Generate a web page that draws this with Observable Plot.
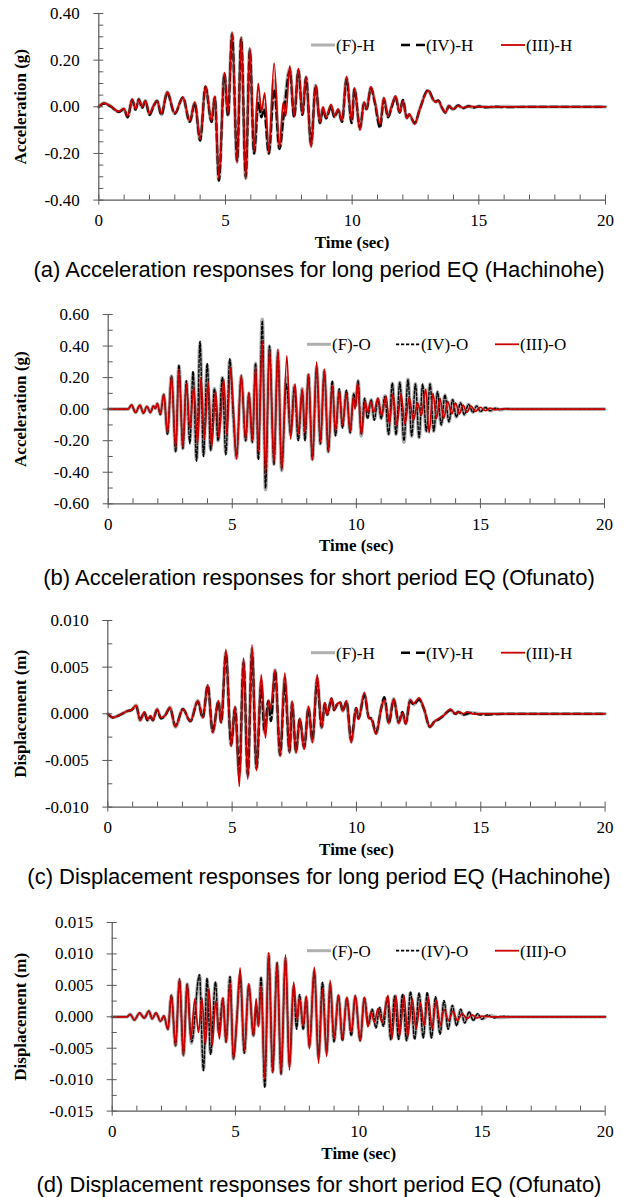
<!DOCTYPE html>
<html><head><meta charset="utf-8">
<script src="https://cdn.jsdelivr.net/npm/d3@7"></script>
<script src="https://cdn.jsdelivr.net/npm/@observablehq/plot@0.6"></script>
<style>
html,body{margin:0;padding:0;background:#fff;overflow:hidden}
#root{position:relative;width:626px;height:1197px}
.panel{position:absolute;left:0;top:0}
.cap{position:absolute;left:12px;width:614px;text-align:center;font-family:"Liberation Sans",Arial,sans-serif;font-size:22px;line-height:24px;color:#000;white-space:nowrap}
#leg{position:absolute;left:0;top:0;pointer-events:none}
svg, svg text{font-family:"Liberation Serif","Times New Roman",serif !important}
</style></head><body><div id="root"></div>
<script>
// ---------- tick values ----------
const xMajor = [0,5,10,15,20];
const xMinor = [1,2,3,4,6,7,8,9,11,12,13,14,16,17,18,19];
const yMajorA = [-0.4,-0.2,0,0.2,0.4];
const yMinorA = [-0.35,-0.3,-0.25,-0.15,-0.1,-0.05,0.05,0.1,0.15,0.25,0.3,0.35];
const yMajorB = [-0.6,-0.4,-0.2,0,0.2,0.4,0.6];
const yMinorB = [-0.5,-0.3,-0.1,0.1,0.3,0.5];
const yMajorC = [-0.01,-0.005,0,0.005,0.01];
const yMinorC = [-0.0075,-0.0025,0.0025,0.0075];
const yMajorD = [-0.015,-0.01,-0.005,0,0.005,0.01,0.015];
const yMinorD = [-0.0125,-0.0075,-0.0025,0.0025,0.0075,0.0125];

// ---------- series names / labels ----------
const namesH = ["(F)-H","(IV)-H","(III)-H"];
const namesO = ["(F)-O","(IV)-O","(III)-O"];
const captions = [
  "(a) Acceleration responses for long period EQ (Hachinohe)",
  "(b) Acceleration responses for short period EQ (Ofunato)",
  "(c) Displacement responses for long period EQ (Hachinohe)",
  "(d) Displacement responses for short period EQ (Ofunato)"
];
const yTitles = ["Acceleration (g)","Acceleration (g)","Displacement (m)","Displacement (m)"];
const xTitle = "Time (sec)";

// ---------- (a) acceleration, Hachinohe: [time s, accel g] ----------
const aIII = [[0,0],[0.2,0.016],[0.46,0.003],[0.79,-0.02],[0.99,-0.008],[1.14,-0.04],[1.32,0.033],[1.45,-0.01],[1.58,0.03],[1.71,0],[1.84,0.027],[2,-0.03],[2.17,0.008],[2.3,0.025],[2.47,-0.03],[2.7,0.064],[3,-0.027],[3.32,0.04],[3.59,-0.06],[3.79,0.02],[4,-0.14],[4.21,0.09],[4.45,-0.06],[4.58,0.045],[4.74,-0.31],[4.96,0.147],[5.1,-0.03],[5.26,0.32],[5.46,-0.24],[5.62,0.3],[5.8,-0.31],[5.96,0.254],[6.13,-0.19],[6.29,0.1],[6.42,-0.02],[6.55,0.06],[6.71,-0.196],[6.92,0.187],[7.13,-0.175],[7.28,0.02],[7.38,-0.04],[7.54,0.176],[7.71,-0.04],[7.88,0.164],[8.04,-0.03],[8.18,0.13],[8.38,-0.174],[8.56,0.093],[8.73,-0.067],[8.85,0],[8.97,-0.045],[9.17,0.011],[9.3,-0.04],[9.45,-0.01],[9.6,-0.06],[9.78,0.13],[9.98,-0.06],[10.09,0.08],[10.31,-0.1],[10.47,0.02],[10.57,-0.01],[10.74,0.087],[10.9,0.02],[11.1,-0.075],[11.25,0.04],[11.42,-0.04],[11.55,0],[11.71,0.047],[11.88,-0.024],[12,0.026],[12.16,-0.05],[12.25,-0.03],[12.47,-0.074],[12.67,-0.01],[13,0.069],[13.2,0.03],[13.3,0.02],[13.4,0.025],[13.55,-0.005],[13.68,-0.024],[13.82,0.004],[13.98,-0.01],[14.18,0.004],[14.38,-0.004],[14.6,0.002],[15,0],[16,0],[20,0]];
const aIV = [[0,0],[0.2,0.014],[0.46,0.002],[0.79,-0.022],[0.99,-0.01],[1.14,-0.045],[1.32,0.03],[1.45,-0.012],[1.58,0.032],[1.71,-0.005],[1.84,0.025],[2,-0.035],[2.17,0.005],[2.3,0.025],[2.47,-0.035],[2.7,0.06],[3,-0.03],[3.32,0.04],[3.59,-0.065],[3.79,0.015],[4,-0.145],[4.21,0.085],[4.45,-0.065],[4.58,0.04],[4.74,-0.317],[4.96,0.14],[5.1,-0.04],[5.26,0.31],[5.46,-0.23],[5.62,0.29],[5.8,-0.3],[5.96,0.24],[6.13,-0.2],[6.3,0.02],[6.42,-0.045],[6.52,-0.01],[6.71,-0.2],[6.92,0.075],[7.13,-0.18],[7.3,-0.035],[7.54,0.155],[7.71,-0.045],[7.88,0.155],[8.04,-0.035],[8.18,0.125],[8.38,-0.16],[8.56,0.09],[8.73,-0.07],[8.85,-0.01],[8.97,-0.05],[9.17,0],[9.3,-0.045],[9.45,-0.015],[9.6,-0.065],[9.78,0.12],[9.98,-0.07],[10.09,0.075],[10.31,-0.09],[10.47,0.015],[10.57,-0.01],[10.74,0.08],[10.9,0.015],[11.1,-0.09],[11.25,0.03],[11.42,-0.045],[11.55,-0.005],[11.71,0.04],[11.88,-0.025],[12,0.03],[12.16,-0.045],[12.25,-0.035],[12.47,-0.07],[12.67,-0.01],[13,0.072],[13.2,0.032],[13.3,0.022],[13.4,0.028],[13.55,-0.005],[13.68,-0.025],[13.82,0.003],[13.98,-0.012],[14.18,0.006],[14.38,-0.006],[14.6,0.003],[14.8,-0.004],[15,0.002],[15.3,-0.003],[15.6,0.001],[16,-0.002],[17,0],[20,0]];
const aF = [[0,0],[0.2,0.016],[0.46,0.003],[0.79,-0.021],[0.99,-0.009],[1.14,-0.043],[1.32,0.031],[1.45,-0.011],[1.58,0.033],[1.71,-0.003],[1.84,0.026],[2,-0.034],[2.17,0.006],[2.3,0.026],[2.47,-0.033],[2.7,0.062],[3,-0.029],[3.32,0.04],[3.59,-0.063],[3.79,0.017],[4,-0.143],[4.21,0.087],[4.45,-0.063],[4.58,0.042],[4.74,-0.315],[4.96,0.143],[5.1,-0.036],[5.26,0.315],[5.46,-0.235],[5.62,0.295],[5.8,-0.305],[5.96,0.245],[6.13,-0.2],[6.3,0.04],[6.42,-0.04],[6.54,0.01],[6.71,-0.2],[6.92,0.11],[7.13,-0.18],[7.3,-0.02],[7.54,0.165],[7.71,-0.042],[7.88,0.16],[8.04,-0.033],[8.18,0.128],[8.38,-0.165],[8.56,0.092],[8.73,-0.068],[8.85,-0.005],[8.97,-0.048],[9.17,0.005],[9.3,-0.043],[9.45,-0.012],[9.6,-0.063],[9.78,0.125],[9.98,-0.065],[10.09,0.078],[10.31,-0.095],[10.47,0.018],[10.57,-0.01],[10.74,0.083],[10.9,0.018],[11.1,-0.085],[11.25,0.035],[11.42,-0.043],[11.55,-0.003],[11.71,0.043],[11.88,-0.023],[12,0.028],[12.16,-0.048],[12.25,-0.033],[12.47,-0.072],[12.67,-0.01],[13,0.07],[13.2,0.03],[13.3,0.021],[13.4,0.026],[13.55,-0.005],[13.68,-0.024],[13.82,0.004],[13.98,-0.011],[14.18,0.005],[14.38,-0.005],[14.6,0.003],[14.8,-0.003],[15,0.002],[15.4,-0.002],[16,0.001],[17,0],[20,0]];

// ---------- (b) acceleration, Ofunato ----------
const bIII = [[0,0],[0.8,0],[0.94,0.027],[1.1,-0.02],[1.28,0.025],[1.42,-0.025],[1.56,0.018],[1.7,-0.02],[1.82,0.02],[1.9,0.005],[1.98,0.036],[2.1,-0.03],[2.24,0.095],[2.39,-0.148],[2.55,0.207],[2.72,-0.25],[2.85,0.254],[3.01,-0.24],[3.15,0.16],[3.29,-0.12],[3.45,0.14],[3.6,-0.22],[3.74,0.2],[3.87,-0.19],[4.03,0.17],[4.17,-0.24],[4.33,0.116],[4.46,-0.18],[4.66,0.19],[4.78,-0.16],[4.93,0.264],[5.04,0.02],[5.17,-0.317],[5.36,0.218],[5.54,-0.19],[5.67,0.106],[5.81,-0.2],[5.94,0.27],[6.05,-0.27],[6.21,0.43],[6.34,-0.42],[6.5,0.38],[6.68,-0.34],[6.84,0.38],[6.99,-0.39],[7.2,0.34],[7.35,-0.19],[7.53,0.16],[7.66,-0.16],[7.82,0.127],[7.93,-0.15],[8.07,0.22],[8.23,-0.32],[8.4,0.3],[8.55,-0.21],[8.71,0.254],[8.87,-0.264],[9.03,0.15],[9.16,-0.14],[9.31,0.116],[9.44,-0.1],[9.6,0.1],[9.75,-0.14],[9.88,0.08],[9.95,0],[10.05,0.17],[10.2,-0.16],[10.36,0.05],[10.45,-0.02],[10.58,0.05],[10.7,-0.02],[10.87,0.07],[11.02,-0.04],[11.2,0.085],[11.33,-0.095],[11.47,0.095],[11.63,-0.1],[11.8,0.095],[11.96,-0.095],[12.13,0.075],[12.3,-0.07],[12.47,0.04],[12.62,-0.04],[12.8,0.127],[12.93,-0.15],[13.09,0.1],[13.23,-0.06],[13.37,0.07],[13.52,-0.06],[13.68,0.05],[13.85,-0.03],[14,0.04],[14.15,-0.03],[14.3,0.025],[14.45,-0.02],[14.62,0.02],[14.8,-0.015],[15,0.012],[15.2,-0.01],[15.4,0.006],[15.6,-0.004],[15.9,0.002],[16.2,0],[20,0]];
const bIV = [[0,0],[0.8,0],[0.94,0.025],[1.1,-0.022],[1.28,0.024],[1.42,-0.026],[1.56,0.016],[1.7,-0.022],[1.82,0.018],[1.9,0.004],[1.98,0.034],[2.1,-0.035],[2.24,0.09],[2.39,-0.16],[2.55,0.21],[2.72,-0.27],[2.85,0.28],[3.01,-0.25],[3.15,0.18],[3.29,-0.22],[3.42,0.24],[3.56,-0.33],[3.7,0.43],[3.84,-0.3],[3.99,0.29],[4.13,-0.26],[4.28,0.13],[4.43,-0.2],[4.6,0.2],[4.74,-0.29],[4.9,0.32],[5.04,-0.05],[5.17,-0.3],[5.36,0.2],[5.54,-0.2],[5.67,0.1],[5.81,-0.21],[5.94,0.29],[6.05,-0.32],[6.21,0.56],[6.34,-0.5],[6.5,0.4],[6.68,-0.35],[6.84,0.36],[6.99,-0.38],[7.18,0.16],[7.35,-0.15],[7.5,0.14],[7.66,-0.2],[7.82,0.12],[7.93,-0.2],[8.07,0.22],[8.23,-0.32],[8.4,0.26],[8.55,-0.22],[8.71,0.24],[8.87,-0.27],[9.03,0.18],[9.16,-0.17],[9.31,0.13],[9.44,-0.12],[9.6,0.12],[9.75,-0.15],[9.9,0.1],[9.97,0.02],[10.07,0.18],[10.2,-0.16],[10.33,0.07],[10.45,-0.06],[10.6,0.06],[10.72,-0.07],[10.87,0.06],[11,-0.06],[11.15,0.08],[11.3,-0.16],[11.45,0.165],[11.6,-0.16],[11.75,0.17],[11.92,-0.2],[12.08,0.186],[12.23,-0.17],[12.38,0.16],[12.53,-0.18],[12.67,0.16],[12.82,-0.14],[12.97,0.16],[13.12,-0.14],[13.27,0.11],[13.42,-0.1],[13.57,0.09],[13.73,-0.08],[13.88,0.06],[14.03,-0.05],[14.2,0.04],[14.35,-0.035],[14.52,0.03],[14.7,-0.02],[14.85,0.02],[15,-0.015],[15.2,0.01],[15.4,-0.01],[15.6,0.006],[15.8,-0.004],[16,0.003],[16.3,0],[20,0]];
const bF = [[0,0],[0.8,0],[0.94,0.026],[1.1,-0.021],[1.28,0.025],[1.42,-0.025],[1.56,0.017],[1.7,-0.021],[1.82,0.019],[1.9,0.005],[1.98,0.035],[2.1,-0.033],[2.24,0.092],[2.39,-0.155],[2.55,0.21],[2.72,-0.265],[2.85,0.275],[3.01,-0.25],[3.15,0.175],[3.29,-0.2],[3.42,0.23],[3.56,-0.32],[3.7,0.42],[3.84,-0.29],[3.99,0.28],[4.13,-0.26],[4.28,0.13],[4.43,-0.2],[4.6,0.2],[4.74,-0.28],[4.9,0.31],[5.04,-0.04],[5.17,-0.31],[5.36,0.21],[5.54,-0.2],[5.67,0.1],[5.81,-0.21],[5.94,0.29],[6.05,-0.31],[6.21,0.57],[6.34,-0.51],[6.5,0.4],[6.68,-0.35],[6.84,0.37],[6.99,-0.39],[7.18,0.2],[7.35,-0.16],[7.5,0.15],[7.66,-0.19],[7.82,0.13],[7.93,-0.19],[8.07,0.22],[8.23,-0.32],[8.4,0.27],[8.55,-0.22],[8.71,0.245],[8.87,-0.27],[9.03,0.17],[9.16,-0.16],[9.31,0.125],[9.44,-0.115],[9.6,0.115],[9.75,-0.15],[9.9,0.1],[9.97,0.02],[10.07,0.18],[10.2,-0.17],[10.33,0.065],[10.45,-0.055],[10.6,0.06],[10.72,-0.065],[10.87,0.065],[11,-0.06],[11.15,0.085],[11.3,-0.16],[11.45,0.16],[11.6,-0.16],[11.75,0.17],[11.92,-0.21],[12.08,0.19],[12.23,-0.17],[12.38,0.16],[12.53,-0.18],[12.67,0.15],[12.82,-0.14],[12.97,0.16],[13.12,-0.14],[13.27,0.11],[13.42,-0.1],[13.57,0.09],[13.73,-0.08],[13.88,0.06],[14.03,-0.05],[14.2,0.04],[14.35,-0.035],[14.52,0.03],[14.7,-0.02],[14.85,0.02],[15,-0.015],[15.2,0.01],[15.4,-0.01],[15.6,0.006],[15.8,-0.004],[16,0.003],[16.3,0],[20,0]];

// ---------- (c) displacement, Hachinohe: [time s, disp m] ----------
const cIII = [[0,0],[0.2,-0.0004],[0.5,-0.0001],[0.8,0.0003],[0.95,0.0004],[1.14,0.0009],[1.3,-0.0007],[1.47,0.0002],[1.6,-0.0006],[1.72,-0.0002],[1.81,-0.0007],[1.98,0.0005],[2.14,-0.0004],[2.3,-0.0002],[2.5,0.0007],[2.72,-0.0014],[3.02,0.0005],[3.32,-0.0008],[3.62,0.0014],[3.82,-0.0004],[4.02,0.0031],[4.22,-0.002],[4.45,0.0014],[4.56,-0.001],[4.75,0.0069],[4.96,-0.0035],[5.12,0.0008],[5.29,-0.0078],[5.46,0.006],[5.63,-0.007],[5.8,0.0074],[5.98,-0.0061],[6.17,0.0042],[6.34,-0.0026],[6.46,0.0014],[6.55,0.0006],[6.73,0.0047],[6.93,-0.0045],[7.12,0.0044],[7.31,-0.0042],[7.41,0.0014],[7.57,-0.0042],[7.72,-0.0005],[7.9,-0.0038],[8.07,0.0008],[8.23,-0.0031],[8.42,0.0042],[8.6,-0.0015],[8.73,0.0012],[8.82,-0.0001],[9,0.0017],[9.1,0.0004],[9.2,0.001],[9.35,0.0012],[9.45,0.0003],[9.6,0.0014],[9.79,-0.0031],[9.99,0.0006],[10.08,-0.0006],[10.32,0.0023],[10.5,-0.0005],[10.6,-0.0006],[10.79,-0.0022],[10.99,0.0005],[11.12,0.0015],[11.3,-0.001],[11.5,0.0016],[11.7,-0.001],[11.85,0.0001],[11.98,-0.0011],[12.16,0.0015],[12.3,0.0011],[12.52,0.0017],[12.72,0.0005],[12.95,-0.0014],[13.15,-0.0008],[13.31,-0.0005],[13.5,-0.0002],[13.78,0.0005],[13.98,0],[14.1,0.0002],[14.3,0],[14.45,0.0002],[14.7,0],[20,0]];
const cIV = [[0,0],[0.2,-0.0004],[0.5,-0.0001],[0.8,0.0003],[0.95,0.0004],[1.14,0.0008],[1.3,-0.0006],[1.47,0.0001],[1.6,-0.0007],[1.72,-0.0003],[1.81,-0.0007],[1.98,0.0004],[2.14,-0.0005],[2.3,-0.0002],[2.5,0.0006],[2.72,-0.0013],[3.02,0.0005],[3.32,-0.0008],[3.62,0.0013],[3.82,-0.0004],[4.02,0.003],[4.22,-0.0019],[4.45,0.0013],[4.56,-0.0009],[4.75,0.0064],[4.96,-0.0033],[5.12,0.0006],[5.29,-0.0062],[5.46,0.0055],[5.63,-0.0065],[5.8,0.0066],[5.98,-0.0058],[6.17,0.003],[6.3,-0.0018],[6.46,0.0014],[6.56,-0.0008],[6.73,0.0046],[6.93,-0.0044],[7.12,0.0032],[7.31,-0.004],[7.41,0.0011],[7.57,-0.004],[7.72,-0.0006],[7.9,-0.0036],[8.07,0.0006],[8.23,-0.0028],[8.42,0.0035],[8.6,-0.0014],[8.73,0.0011],[8.82,-0.0001],[9,0.0016],[9.1,0.0004],[9.2,0.0009],[9.35,0.0012],[9.45,0.0003],[9.6,0.0013],[9.79,-0.0028],[9.99,0.0006],[10.08,-0.0005],[10.32,0.002],[10.5,-0.0004],[10.6,-0.0005],[10.79,-0.002],[10.99,0.0005],[11.12,0.0018],[11.3,-0.001],[11.5,0.0015],[11.7,-0.0009],[11.85,0.0002],[11.98,-0.001],[12.16,0.0014],[12.3,0.001],[12.52,0.0015],[12.72,0.0005],[12.95,-0.0014],[13.15,-0.0008],[13.31,-0.0006],[13.5,-0.0002],[13.78,0.0004],[13.98,0],[14.1,0.0002],[14.3,-0.0001],[14.6,0.0001],[15,-0.0001],[16,0],[20,0]];
const cF = [[0,0],[0.2,-0.0004],[0.5,-0.0001],[0.8,0.0003],[0.95,0.0004],[1.14,0.0009],[1.3,-0.0007],[1.47,0.0001],[1.6,-0.0007],[1.72,-0.0003],[1.81,-0.0007],[1.98,0.0005],[2.14,-0.0005],[2.3,-0.0002],[2.5,0.0007],[2.72,-0.0014],[3.02,0.0005],[3.32,-0.0008],[3.62,0.0014],[3.82,-0.0004],[4.02,0.003],[4.22,-0.002],[4.45,0.0013],[4.56,-0.0009],[4.75,0.0066],[4.96,-0.0034],[5.12,0.0007],[5.29,-0.0066],[5.46,0.0057],[5.63,-0.0067],[5.8,0.007],[5.98,-0.0059],[6.17,0.0035],[6.3,-0.002],[6.46,0.0014],[6.56,-0.0006],[6.73,0.0047],[6.93,-0.0045],[7.12,0.0038],[7.31,-0.0041],[7.41,0.0012],[7.57,-0.0041],[7.72,-0.0006],[7.9,-0.0037],[8.07,0.0007],[8.23,-0.003],[8.42,0.0038],[8.6,-0.0015],[8.73,0.0011],[8.82,-0.0001],[9,0.0016],[9.1,0.0004],[9.2,0.0009],[9.35,0.0012],[9.45,0.0003],[9.6,0.0013],[9.79,-0.003],[9.99,0.0006],[10.08,-0.0005],[10.32,0.0021],[10.5,-0.0004],[10.6,-0.0005],[10.79,-0.0021],[10.99,0.0005],[11.12,0.0017],[11.3,-0.001],[11.5,0.0016],[11.7,-0.001],[11.85,0.0001],[11.98,-0.0011],[12.16,0.0015],[12.3,0.001],[12.52,0.0016],[12.72,0.0005],[12.95,-0.0014],[13.15,-0.0008],[13.31,-0.0006],[13.5,-0.0002],[13.78,0.0004],[13.98,0],[14.1,0.0002],[14.3,-0.0001],[14.6,0.0001],[15,0],[20,0]];

// ---------- (d) displacement, Ofunato ----------
const dIII = [[0,0],[0.6,0],[0.73,0.0004],[0.9,-0.0005],[1.11,0.0006],[1.3,-0.0002],[1.49,0.0009],[1.62,-0.0003],[1.78,0.0006],[1.96,-0.0007],[2.1,0.0002],[2.26,-0.002],[2.4,0.0034],[2.57,-0.0046],[2.73,0.0061],[2.89,-0.0062],[3.04,0.0052],[3.19,-0.0035],[3.35,0.0028],[3.5,-0.0025],[3.64,0.003],[3.78,-0.0045],[3.93,0.0045],[4.06,-0.0045],[4.2,0.0025],[4.35,-0.0035],[4.49,0.003],[4.62,-0.004],[4.78,0.0055],[4.92,-0.0067],[5.05,-0.001],[5.19,0.0078],[5.36,-0.0054],[5.54,0.0053],[5.73,-0.003],[5.84,0.0029],[5.93,-0.0016],[6.04,0.005],[6.19,-0.0099],[6.35,0.0102],[6.51,-0.0088],[6.69,0.0086],[6.85,-0.0091],[7.03,0.0099],[7.19,-0.0085],[7.36,0.0055],[7.5,-0.0005],[7.6,0.003],[7.75,-0.0015],[7.87,0.0033],[8,-0.0051],[8.2,0.0079],[8.37,-0.0074],[8.53,0.0045],[8.7,-0.0063],[8.84,0.0058],[9,-0.0035],[9.18,0.0034],[9.34,-0.0035],[9.52,0.0031],[9.7,-0.0025],[9.86,0.0034],[10.06,-0.0038],[10.23,0.0031],[10.37,-0.0016],[10.5,0.0008],[10.64,-0.0009],[10.78,0.0013],[10.95,-0.0009],[11.19,0.0034],[11.35,-0.0035],[11.51,0.0034],[11.66,-0.003],[11.84,0.0034],[11.99,-0.0032],[12.17,0.0029],[12.33,-0.0019],[12.5,0.0023],[12.65,-0.0014],[12.82,0.0031],[12.98,-0.0019],[13.14,0.0026],[13.32,-0.0014],[13.46,0.0012],[13.65,-0.0006],[13.82,0.0009],[14,-0.0006],[14.2,0.0005],[14.4,-0.0003],[14.6,0.0003],[14.8,-0.0002],[15,0.0001],[15.4,0],[20,0]];
const dIV = [[0,0],[0.6,0],[0.73,0.0004],[0.9,-0.0005],[1.11,0.0006],[1.3,-0.0002],[1.49,0.0009],[1.62,-0.0003],[1.78,0.0006],[1.96,-0.0007],[2.1,0],[2.26,-0.002],[2.4,0.0034],[2.57,-0.0046],[2.73,0.0058],[2.89,-0.006],[3.04,0.0052],[3.22,-0.004],[3.54,0.0067],[3.7,-0.0086],[3.85,0.0061],[3.99,-0.006],[4.19,0.0055],[4.32,-0.0022],[4.49,0.0029],[4.62,-0.004],[4.78,0.0064],[4.92,-0.0067],[5.05,-0.0005],[5.19,0.0062],[5.36,-0.0058],[5.54,0.005],[5.73,-0.003],[5.84,0.0013],[5.93,-0.0012],[6.04,0.0063],[6.19,-0.0112],[6.35,0.0098],[6.51,-0.0088],[6.69,0.0086],[6.85,-0.0091],[7.03,0.009],[7.19,-0.0075],[7.36,0.0045],[7.48,-0.002],[7.6,0.0035],[7.75,-0.002],[7.87,0.003],[8,-0.0045],[8.2,0.007],[8.37,-0.006],[8.53,0.0055],[8.7,-0.0055],[8.84,0.005],[9,-0.004],[9.18,0.0034],[9.34,-0.0038],[9.52,0.003],[9.7,-0.003],[9.86,0.0032],[10.06,-0.0038],[10.23,0.003],[10.4,-0.0012],[10.55,0.0012],[10.7,-0.0018],[10.85,0.0015],[11,-0.0015],[11.16,0.003],[11.3,-0.0036],[11.46,0.0033],[11.62,-0.0036],[11.78,0.0036],[11.94,-0.0038],[12.1,0.004],[12.27,-0.0036],[12.45,0.0038],[12.62,-0.0034],[12.78,0.0039],[12.95,-0.0034],[13.12,0.0032],[13.3,-0.0028],[13.46,0.0026],[13.63,-0.002],[13.8,0.0018],[13.97,-0.0014],[14.14,0.0012],[14.3,-0.001],[14.48,0.0008],[14.65,-0.0006],[14.82,0.0005],[15,-0.0004],[15.2,0.0003],[15.5,-0.0002],[15.8,0.0001],[16.2,0],[20,0]];
const dF = [[0,0],[0.6,0],[0.73,0.0004],[0.9,-0.0005],[1.11,0.0006],[1.3,-0.0002],[1.49,0.0009],[1.62,-0.0003],[1.78,0.0006],[1.96,-0.0007],[2.1,0.0001],[2.26,-0.002],[2.4,0.0034],[2.57,-0.0046],[2.73,0.0059],[2.89,-0.0061],[3.04,0.0052],[3.22,-0.0042],[3.54,0.0066],[3.7,-0.0084],[3.85,0.006],[3.99,-0.0058],[4.19,0.0054],[4.32,-0.0024],[4.49,0.0029],[4.62,-0.004],[4.78,0.0063],[4.92,-0.0067],[5.05,-0.0006],[5.19,0.0066],[5.36,-0.0057],[5.54,0.0051],[5.73,-0.003],[5.84,0.0016],[5.93,-0.0013],[6.04,0.0062],[6.19,-0.011],[6.35,0.01],[6.51,-0.0088],[6.69,0.0086],[6.85,-0.0091],[7.03,0.0093],[7.19,-0.0078],[7.36,0.0048],[7.48,-0.0016],[7.6,0.0034],[7.75,-0.0019],[7.87,0.0031],[8,-0.0047],[8.2,0.0073],[8.37,-0.0065],[8.53,0.0053],[8.7,-0.0057],[8.84,0.0052],[9,-0.0039],[9.18,0.0034],[9.34,-0.0037],[9.52,0.003],[9.7,-0.0029],[9.86,0.0033],[10.06,-0.0038],[10.23,0.003],[10.4,-0.0013],[10.55,0.0011],[10.7,-0.0016],[10.85,0.0014],[11,-0.0014],[11.16,0.0031],[11.3,-0.0036],[11.46,0.0033],[11.62,-0.0035],[11.78,0.0035],[11.94,-0.0037],[12.1,0.0038],[12.27,-0.0034],[12.45,0.0036],[12.62,-0.0032],[12.78,0.0037],[12.95,-0.0032],[13.12,0.003],[13.3,-0.0026],[13.46,0.0024],[13.63,-0.0018],[13.8,0.0017],[13.97,-0.0013],[14.14,0.0011],[14.3,-0.0009],[14.48,0.0007],[14.65,-0.0005],[14.82,0.0004],[15,-0.0003],[15.3,0.0002],[15.7,-0.0001],[16.2,0],[20,0]];

// ---------- drawing ----------
const SERIF = '"Liberation Serif","Times New Roman",serif';
const AXIS = "#595959";
const GRAY = "#b0b0b0", RED = "#cc0000";
const root = document.getElementById("root");

const panels = [
  {top: 12.7, bottom: 199.3, left: 98.3, right: 605, yDomain: [-0.4, 0.4], yMajor: yMajorA, yMinor: yMinorA, fmt: d => d.toFixed(2), series: [aF, aIV, aIII], names: namesH, dash: "7,4", legDash: "9,6", dashW: 2.2, legY: 45, legX: [311, 401, 501], capY: 270},
  {top: 313.7, bottom: 503, left: 107.7, right: 604, yDomain: [-0.6, 0.6], yMajor: yMajorB, yMinor: yMinorB, fmt: d => d.toFixed(2), series: [bF, bIV, bIII], names: namesO, dash: "3,1.8", legDash: "3.2,1.8", dashW: 1.4, legY: 344.3, legX: [307, 396, 495], capY: 578},
  {top: 619.7, bottom: 806.3, left: 107.3, right: 604.6, yDomain: [-0.01, 0.01], yMajor: yMajorC, yMinor: yMinorC, fmt: d => d.toFixed(3), series: [cF, cIV, cIII], names: namesH, dash: "7,4", legDash: "9,6", dashW: 2.2, legY: 652.7, legX: [311, 401, 501], capY: 877},
  {top: 921.7, bottom: 1110.3, left: 111.7, right: 604.7, yDomain: [-0.015, 0.015], yMajor: yMajorD, yMinor: yMinorD, fmt: d => d.toFixed(3), series: [dF, dIV, dIII], names: namesO, dash: "3,1.8", legDash: "3.2,1.8", dashW: 1.4, legY: 950.7, legX: [307, 396, 495], capY: 1185}
];

const T = d => d[0], V = d => d[1];

panels.forEach((p, i) => {
  const mt = 10, mb = 60, h = p.bottom - p.top;
  const [F, IV, III] = p.series;
  const fig = Plot.plot({
    width: 626, height: mt + h + mb,
    marginTop: mt, marginBottom: mb, marginLeft: p.left, marginRight: 626 - p.right,
    style: {fontFamily: SERIF, fontSize: "17px", color: "#000", background: "none", overflow: "visible"},
    x: {domain: [0, 20]},
    y: {domain: p.yDomain},
    marks: [
      Plot.line(F, {x: T, y: V, stroke: GRAY, strokeWidth: 3.6, curve: "monotone-x"}),
      Plot.line(IV, {x: T, y: V, stroke: "#000", strokeWidth: p.dashW, strokeDasharray: p.dash, curve: "monotone-x"}),
      Plot.line(III, {x: T, y: V, stroke: RED, strokeWidth: 1.7, curve: "monotone-x"}),
      Plot.ruleX([0], {stroke: AXIS, strokeWidth: 1.2}),
      Plot.ruleY([p.yDomain[0]], {stroke: AXIS, strokeWidth: 1.2}),
      Plot.axisX({ticks: xMajor, tickSize: 10, dy: -5, tickFormat: () => "", stroke: AXIS, label: null}),
      Plot.axisX({ticks: xMinor, tickSize: 5, dy: -5, tickFormat: () => "", stroke: AXIS, label: null}),
      Plot.axisX({ticks: xMajor, tickSize: 0, tickPadding: 14, tickFormat: d => String(d), label: null, fontFamily: SERIF, fontSize: 17, fill: "#000"}),
      Plot.axisY({ticks: p.yMajor, tickSize: 10, dx: 5, tickFormat: () => "", stroke: AXIS, label: null}),
      Plot.axisY({ticks: p.yMinor, tickSize: 5, dx: 5, tickFormat: () => "", stroke: AXIS, label: null}),
      Plot.axisY({ticks: p.yMajor, tickSize: 0, tickPadding: 19, tickFormat: p.fmt, label: null, fontFamily: SERIF, fontSize: 17, fill: "#000"}),
      Plot.text([yTitles[i]], {frameAnchor: "left", text: d => d, rotate: -90, dx: 20 - p.left, textAnchor: "middle", lineAnchor: "middle", fontWeight: "bold", fontSize: 17, fontFamily: SERIF}),
      Plot.text([xTitle], {frameAnchor: "bottom", text: d => d, dy: 42, textAnchor: "middle", lineAnchor: "middle", fontWeight: "bold", fontSize: 17, fontFamily: SERIF})
    ]
  });
  const wrap = document.createElement("div");
  wrap.className = "panel";
  wrap.style.top = (p.top - mt) + "px";
  wrap.appendChild(fig);
  root.appendChild(wrap);

  const cap = document.createElement("div");
  cap.className = "cap";
  cap.style.top = (p.capY - 12) + "px";
  cap.textContent = captions[i];
  root.appendChild(cap);
});

// legends (overlay)
const leg = d3.select(root).append("svg").attr("id", "leg").attr("width", 626).attr("height", 1197);
panels.forEach(p => {
  const styles = [
    {stroke: GRAY, w: 3, dash: null},
    {stroke: "#000", w: p.dashW + 0.3, dash: p.legDash},
    {stroke: RED, w: 1.8, dash: null}
  ];
  p.names.forEach((name, j) => {
    const x0 = p.legX[j];
    const s = styles[j];
    const ln = leg.append("line").attr("x1", x0).attr("x2", x0 + 24).attr("y1", p.legY).attr("y2", p.legY)
      .attr("stroke", s.stroke).attr("stroke-width", s.w);
    if (s.dash) ln.attr("stroke-dasharray", s.dash);
    leg.append("text").attr("x", x0 + 25).attr("y", p.legY).attr("dy", "0.35em")
      .attr("font-family", SERIF).attr("font-size", 17).attr("fill", "#000").text(name);
  });
});
</script>
</body></html>
